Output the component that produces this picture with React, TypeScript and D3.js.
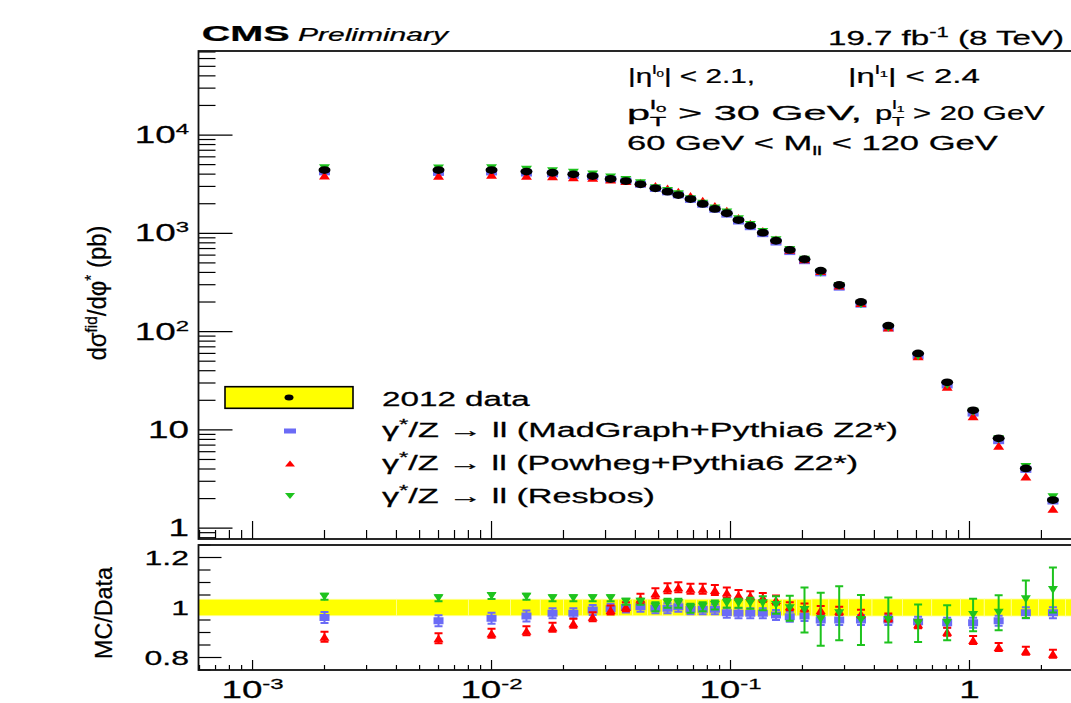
import React, { useLayoutEffect, useRef, useState } from 'react';
import * as d3 from 'd3';

// phi* bin centres and edges
const phiCenters = [0.002, 0.006, 0.010, 0.014, 0.018, 0.022, 0.0265, 0.0315, 0.0365, 0.042,
  0.0485, 0.0545, 0.0605, 0.068, 0.0765, 0.086, 0.0965, 0.108, 0.121, 0.1365,
  0.155, 0.177, 0.204, 0.2385, 0.285, 0.3515, 0.4575, 0.6095, 0.8065, 1.0355,
  1.3245, 1.7215, 2.2345];
const binEdges = [0, 0.004, 0.008, 0.012, 0.016, 0.020, 0.024, 0.029, 0.034, 0.039, 0.045,
  0.052, 0.057, 0.064, 0.072, 0.081, 0.091, 0.102, 0.114, 0.128, 0.145, 0.165,
  0.189, 0.219, 0.258, 0.312, 0.391, 0.524, 0.695, 0.918, 1.153, 1.496, 1.947, 2.522, 3.277];

// 2012 data, d sigma / d phi* (pb)
const data2012 = [4400, 4400, 4400, 4250, 4130, 3980, 3820, 3570, 3400, 3150,
  2870, 2650, 2450, 2230, 1990, 1770, 1600, 1365, 1195, 1015,
  840, 677, 545, 417, 298, 200, 115, 60, 30.5, 15.8,
  8.2, 4.05, 1.93];
// relative data uncertainty (yellow band), one per bin
const bandUnc = [0.033, 0.033, 0.033, 0.033, 0.033, 0.033, 0.033, 0.033, 0.033, 0.033,
  0.033, 0.033, 0.033, 0.033, 0.033, 0.033, 0.033, 0.033, 0.033, 0.033,
  0.033, 0.033, 0.033, 0.034, 0.034, 0.034, 0.034, 0.034, 0.034, 0.034,
  0.034, 0.034, 0.034, 0.034];

// MC / data ratios
const ratioMadGraph = [0.96, 0.947, 0.957, 0.966, 0.977, 0.977, 0.99, 0.995, 1.0, 1.003,
  0.997, 0.997, 1.003, 0.993, 0.993, 0.993, 0.979, 0.977, 0.977, 0.977,
  0.97, 0.963, 0.966, 0.95, 0.95, 0.95, 0.95, 0.943, 0.939, 0.939,
  0.947, 0.979, 0.979];
const errMadGraph = [0.022, 0.022, 0.022, 0.022, 0.02, 0.02, 0.02, 0.02, 0.02, 0.02,
  0.02, 0.02, 0.02, 0.02, 0.02, 0.02, 0.02, 0.02, 0.02, 0.02,
  0.02, 0.02, 0.02, 0.02, 0.02, 0.02, 0.02, 0.02, 0.02, 0.02,
  0.02, 0.022, 0.022];
const ratioPowheg = [0.883, 0.877, 0.897, 0.907, 0.921, 0.937, 0.963, 0.99, 1.003, 1.035,
  1.057, 1.077, 1.081, 1.075, 1.075, 1.07, 1.06, 1.05, 1.047, 1.04,
  1.03, 1.005, 1.0, 0.99, 0.987, 0.975, 0.96, 0.933, 0.903, 0.87,
  0.842, 0.827, 0.815];
const errPowheg = [0.02, 0.02, 0.018, 0.018, 0.018, 0.018, 0.018, 0.018, 0.018, 0.02,
  0.02, 0.02, 0.02, 0.02, 0.02, 0.02, 0.02, 0.02, 0.018, 0.018,
  0.018, 0.016, 0.016, 0.016, 0.016, 0.016, 0.016, 0.016, 0.016, 0.016,
  0.016, 0.016, 0.016];
const ratioResbos = [1.043, 1.037, 1.046, 1.043, 1.037, 1.037, 1.037, 1.037, 1.023, 1.023,
  1.003, 1.017, 1.017, 0.997, 1.003, 1.01, 1.017, 1.017, 1.017, 1.017,
  1.01, 0.997, 0.99, 0.953, 0.977, 0.95, 0.95, 0.937, 0.939, 0.97,
  0.979, 1.033, 1.07];
const errResbos = [0.012, 0.012, 0.012, 0.012, 0.012, 0.012, 0.012, 0.012, 0.012, 0.012,
  0.018, 0.018, 0.018, 0.018, 0.018, 0.018, 0.018, 0.018, 0.022, 0.028,
  0.035, 0.05, 0.09, 0.106, 0.108, 0.1, 0.09, 0.075, 0.07, 0.065,
  0.07, 0.075, 0.09];

// axis tick labels
const yMajor = [1, 10, 100, 1000, 10000];
const yTickBase = ['1', '10', '10', '10', '10'];
const yTickExp = ['', '', '2', '3', '4'];
const xMajor = [0.001, 0.01, 0.1, 1];
const xTickBase = ['10', '10', '10', '1'];
const xTickExp = ['-3', '-2', '-1', ''];
const ratioMajor = [0.8, 1, 1.2];
const ratioLabels = ['0.8', '1', '1.2'];
const ratioMinor = [0.75, 0.85, 0.9, 0.95, 1.05, 1.1, 1.15, 1.25];

const FONT = 'Liberation Sans, Arial, Helvetica, sans-serif';
const BLUE = '#6b6bf6';
const RED = '#ff0000';
const GREEN = '#1ec31e';

// text stretched horizontally to a target width (the source image is stretched)
function FitText({ x, y, width, sx = 1.6, anchor = 'start', rotate = false, size = 20,
  weight = 'normal', italic = false, children }: any) {
  const ref = useRef<SVGTextElement>(null);
  const [s, setS] = useState(sx);
  useLayoutEffect(() => {
    if (width && ref.current) {
      const w = ref.current.getBBox().width;
      if (w > 0) setS(width / w);
    }
  }, [width]);
  const tr = rotate
    ? `translate(${x},${y}) rotate(-90) scale(${s},1)`
    : `translate(${x},${y}) scale(${s},1)`;
  return (
    <g transform={tr}>
      <text ref={ref} x={0} y={0} textAnchor={anchor} fontFamily={FONT} fontSize={size}
        fontWeight={weight} fontStyle={italic ? 'italic' : 'normal'} fill="#000"
        stroke="#000" strokeWidth={0.25}>
        {children}
      </text>
    </g>
  );
}

function tri(cx: number, cy: number, w: number, h: number, up: boolean) {
  return up
    ? `M${cx - w / 2},${cy + h / 2}L${cx + w / 2},${cy + h / 2}L${cx},${cy - h / 2}Z`
    : `M${cx - w / 2},${cy - h / 2}L${cx + w / 2},${cy - h / 2}L${cx},${cy + h / 2}Z`;
}

const L = 198.5, R = 1083.5;
const TOP = 51, TOPB = 539, RT = 545, RB = 670;

export default function App() {
  const x = d3.scaleLog().domain([5.94e-4, 3]).range([L, R]);
  const y = d3.scaleLog().domain([0.776, 71600]).range([TOPB, TOP]);
  const yr = d3.scaleLinear().domain([0.75, 1.25]).range([RB, RT]);

  const xMinor: number[] = [];
  for (let e = -4; e <= 0; e++) for (let m = 2; m <= 9; m++) {
    const v = m * Math.pow(10, e);
    if (v > 5.94e-4 && v < 3) xMinor.push(v);
  }
  const yMinor: number[] = [];
  for (let e = -1; e <= 4; e++) for (let m = 2; m <= 9; m++) {
    const v = m * Math.pow(10, e);
    if (v > 0.776 && v < 71600) yMinor.push(v);
  }

  const series = [
    { r: ratioMadGraph, e: errMadGraph, c: BLUE, kind: 'sq' },
    { r: ratioPowheg, e: errPowheg, c: RED, kind: 'up' },
    { r: ratioResbos, e: errResbos, c: GREEN, kind: 'down' },
  ];

  const marker = (kind: string, cx: number, cy: number, c: string, w = 11, h = 7, key?: any) =>
    kind === 'sq'
      ? <rect key={key} x={cx - w / 2} y={cy - h / 2} width={w} height={h} fill={c} />
      : <path key={key} d={tri(cx, cy, w, h + 1, kind === 'up')} fill={c} />;

  return (
    <svg width={1071} height={703} style={{ position: 'absolute', left: 0, top: 0, background: '#fff' }}>
      <defs>
        <clipPath id="cTop"><rect x={L} y={TOP} width={R - L} height={TOPB - TOP} /></clipPath>
        <clipPath id="cRat"><rect x={L} y={RT} width={R - L} height={RB - RT} /></clipPath>
      </defs>

      {/* header */}
      <FitText x={201.7} y={40.7} width={88} size={22} weight="bold">CMS</FitText>
      <FitText x={298} y={40.7} width={152} size={18.5} italic>Preliminary</FitText>
      <FitText x={828} y={45} width={236} size={21}>
        19.7 fb<tspan dy={-8} fontSize={14}>-1</tspan><tspan dy={8}> (8 TeV)</tspan>
      </FitText>

      {/* ---------- upper panel ---------- */}
      <g stroke="#000" strokeWidth={1.2}>
        {yMajor.map(v => <line key={'ym' + v} x1={L} x2={L + 34} y1={y(v)} y2={y(v)} />)}
        {yMinor.map(v => <line key={'yn' + v} x1={L} x2={L + 17} y1={y(v)} y2={y(v)} />)}
        {xMajor.map(v => <line key={'xm' + v} x1={x(v)} x2={x(v)} y1={TOPB} y2={TOPB - 18} />)}
        {xMinor.map(v => <line key={'xn' + v} x1={x(v)} x2={x(v)} y1={TOPB} y2={TOPB - 9} />)}
      </g>
      {yMajor.map((v, i) => (
        <FitText key={'yl' + v} x={189} y={y(v) + 8} size={23} anchor="end">
          {yTickBase[i]}{yTickExp[i] && <tspan dy={-9} fontSize={15}>{yTickExp[i]}</tspan>}
        </FitText>
      ))}
      <FitText x={106} y={293} width={135} size={25} rotate anchor="middle">
        dσ<tspan dy={-9} fontSize={16}>fid</tspan><tspan dy={9}>/dφ</tspan>
        <tspan dy={-9} fontSize={16}>*</tspan><tspan dy={9}> (pb)</tspan>
      </FitText>

      <g clipPath="url(#cTop)">
        {series.map(s => (
          <g key={'u' + s.c}>
            {phiCenters.map((p, i) => marker(s.kind, x(p), y(data2012[i] * s.r[i]), s.c, 11, 7, i))}
          </g>
        ))}
        {phiCenters.map((p, i) => (
          <ellipse key={'d' + i} cx={x(p)} cy={y(data2012[i])} rx={6} ry={3.9} fill="#000" />
        ))}
      </g>

      {/* annotation */}
      <FitText x={628} y={83} width={127} size={20}>
        |η<tspan dy={-9} fontSize={13}>l</tspan><tspan dy={3} fontSize={9}>0</tspan>
        <tspan dy={6}>| &lt; 2.1,</tspan>
      </FitText>
      <FitText x={848} y={83} width={132} size={20}>
        |η<tspan dy={-9} fontSize={13}>l</tspan><tspan dy={3} fontSize={9}>1</tspan>
        <tspan dy={6}>| &lt; 2.4</tspan>
      </FitText>
      <FitText x={627} y={120} width={235} size={20}>
        p<tspan dy={-11} fontSize={13}>l</tspan><tspan dy={3} fontSize={9}>0</tspan>
        <tspan dx={-8} dy={14} fontSize={13}>T</tspan><tspan dy={-6}> &gt; 30 GeV,</tspan>
      </FitText>
      <FitText x={875} y={120} width={170} size={20}>
        p<tspan dy={-11} fontSize={13}>l</tspan><tspan dy={3} fontSize={9}>1</tspan>
        <tspan dx={-8} dy={14} fontSize={13}>T</tspan><tspan dy={-6}> &gt; 20 GeV</tspan>
      </FitText>
      <FitText x={627} y={150} width={371} size={20}>
        60 GeV &lt; M<tspan dy={5} fontSize={13}>ll</tspan><tspan dy={-5}> &lt; 120 GeV</tspan>
      </FitText>

      {/* legend */}
      <rect x={225} y={386.7} width={128} height={21.6} fill="#ffff00" stroke="#000" strokeWidth={1.6} />
      <ellipse cx={289} cy={397.5} rx={4.5} ry={3} fill="#000" />
      {marker('sq', 290, 431, BLUE, 12, 5)}
      {marker('up', 290, 463.5, RED, 10, 5)}
      {marker('down', 290, 496, GREEN, 10, 5)}
      <FitText x={382} y={406} width={148} size={20}>2012 data</FitText>
      <FitText x={382} y={437} width={516} size={20}>
        γ<tspan dy={-8} fontSize={14}>*</tspan><tspan dy={8}>/Z → ll (MadGraph+Pythia6 Z2*)</tspan>
      </FitText>
      <FitText x={382} y={470} width={476} size={20}>
        γ<tspan dy={-8} fontSize={14}>*</tspan><tspan dy={8}>/Z → ll (Powheg+Pythia6 Z2*)</tspan>
      </FitText>
      <FitText x={382} y={503} width={273} size={20}>
        γ<tspan dy={-8} fontSize={14}>*</tspan><tspan dy={8}>/Z → ll (Resbos)</tspan>
      </FitText>

      {/* ---------- ratio panel ---------- */}
      <g stroke="#000" strokeWidth={1.2}>
        {ratioMajor.map(v => <line key={'rm' + v} x1={L} x2={L + 23} y1={yr(v)} y2={yr(v)} />)}
        {ratioMinor.map(v => <line key={'rn' + v} x1={L} x2={L + 12} y1={yr(v)} y2={yr(v)} />)}
        {xMajor.map(v => <line key={'rxm' + v} x1={x(v)} x2={x(v)} y1={RB} y2={RB - 10} />)}
        {xMinor.map(v => <line key={'rxn' + v} x1={x(v)} x2={x(v)} y1={RB} y2={RB - 5} />)}
      </g>
      {ratioMajor.map((v, i) => (
        <FitText key={'rl' + v} x={189} y={yr(v) + 7.5} size={20} anchor="end">{ratioLabels[i]}</FitText>
      ))}
      <FitText x={112} y={613} width={92} size={24} rotate anchor="middle">MC/Data</FitText>

      <g clipPath="url(#cRat)">
        {bandUnc.map((u, i) => {
          const x0 = Math.max(x(Math.max(binEdges[i], 5.94e-4)), L);
          const x1 = x(binEdges[i + 1]);
          return <rect key={'b' + i} x={x0} y={yr(1 + u)} width={x1 - x0} height={yr(1 - u) - yr(1 + u)}
            fill="#ffff00" stroke="#ffff9a" strokeWidth={0.8} />;
        })}
        {series.map(s => (
          <g key={'r' + s.c}>
            {phiCenters.map((p, i) => {
              const cx = x(p);
              const y0 = yr(s.r[i] - s.e[i]), y1 = yr(s.r[i] + s.e[i]);
              return (
                <g key={i}>
                  <g stroke={s.c} strokeWidth={2}>
                    <line x1={cx} x2={cx} y1={y0} y2={y1} />
                    <line x1={cx - 4} x2={cx + 4} y1={y0} y2={y0} />
                    <line x1={cx - 4} x2={cx + 4} y1={y1} y2={y1} />
                  </g>
                  {marker(s.kind, cx, yr(s.r[i]), s.c, 10, 7)}
                </g>
              );
            })}
          </g>
        ))}
      </g>
      {xMajor.map((v, i) => (
        <FitText key={'xl' + v} x={x(v)} y={698} size={23} anchor="middle">
          {xTickBase[i]}{xTickExp[i] && <tspan dy={-9} fontSize={15}>{xTickExp[i]}</tspan>}
        </FitText>
      ))}

      {/* frames */}
      <g fill="none" stroke="#111" strokeWidth={1.8}>
        <rect x={L} y={TOP} width={R - L} height={TOPB - TOP} />
        <rect x={L} y={RT} width={R - L} height={RB - RT} />
      </g>
    </svg>
  );
}
